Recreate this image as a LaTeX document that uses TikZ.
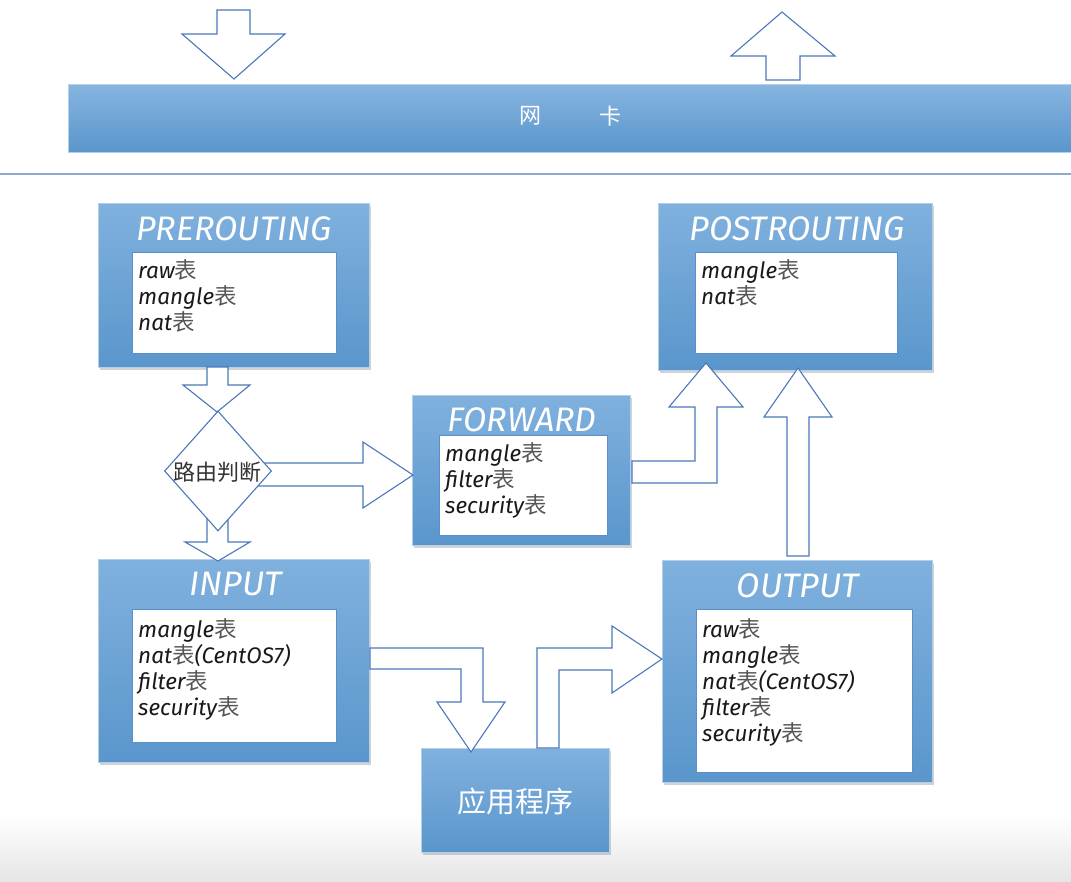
\documentclass[tikz,border=0pt]{standalone}
\usepackage{fontspec}
\setmainfont{Fira Sans}
\newfontfamily\cjk{Noto Sans CJK SC}
\usetikzlibrary{shadows,shapes.geometric}
\definecolor{bluetop}{HTML}{80B1DE}
\definecolor{bluebot}{HTML}{5A96CC}
\definecolor{arrowline}{HTML}{4A78BA}
\definecolor{innerline}{HTML}{5B8FCB}
\definecolor{sepline}{HTML}{8FA8CC}
\definecolor{biaogray}{HTML}{555555}
\newcommand{\bia}{{\upshape\cjk\color{biaogray}表}}
\begin{document}
\begin{tikzpicture}[x=1pt,y=-1pt,
  chainbox/.style={draw=bluetop!60!white, line width=0.5pt, top color=bluetop, bottom color=bluebot,
     drop shadow={opacity=0.35,shadow xshift=2pt,shadow yshift=-3pt}, inner sep=0pt},
  innerbox/.style={draw=innerline, line width=0.8pt, fill=white, inner sep=0pt},
  titletext/.style={text=white, font=\fontsize{34}{36}\selectfont\itshape, inner sep=0pt},
  bodytext/.style={text=black!90, font=\fontsize{22.5}{26}\selectfont\itshape, align=left, inner sep=0pt, anchor=north west},
  blockarrow/.style={draw=arrowline, fill=white, line width=1.1pt, line join=miter},
  cjktext/.style={font=\fontsize{#1}{#1}\selectfont\cjk, inner sep=0pt}
]
% background
\fill[white] (0,0) rectangle (1071,881);
\shade[top color=white, bottom color=black!10] (0,815) rectangle (1071,881);
\useasboundingbox (0,0) rectangle (1071,881);

% network card band
\node[draw=bluetop!60!white, line width=0.5pt, top color=bluetop!95!white, bottom color=bluebot, inner sep=0pt,
      minimum width=1003pt, minimum height=68pt] (nic) at (569.5,118) {};
\node[cjktext=22, text=white] (nicw) at (530,116) {网};
\node[cjktext=22, text=white] (nick) at (610,116) {卡};

% separator line
\coordinate (sepL) at (0,174);
\coordinate (sepR) at (1071,174);
\draw[sepline, line width=1.6pt] (sepL) -- (sepR);

% top block arrows
\draw[blockarrow] (217,10) -- (250,10) -- (250,34) -- (285,34) -- (234,79) -- (182,34) -- (217,34) -- cycle;
\draw[blockarrow] (766,80) -- (766,56) -- (731,56) -- (782,12) -- (835,56) -- (800,56) -- (800,80) -- cycle;

% chain boxes
\node[chainbox, minimum width=271pt, minimum height=164pt] (pre) at (233.5,285) {};
\node[chainbox, minimum width=274pt, minimum height=167pt] (post) at (795,286.5) {};
\node[chainbox, minimum width=218pt, minimum height=150pt] (fwd) at (521,470) {};
\node[chainbox, minimum width=271pt, minimum height=203pt] (in) at (233.5,660.5) {};
\node[chainbox, minimum width=270pt, minimum height=222pt] (out) at (797,671) {};
\node[chainbox, minimum width=188pt, minimum height=104pt] (app) at (515,800) {};

% titles
\node[titletext] (preT) at (234,229) {PREROUTING};
\node[titletext] (postT) at (797,229) {POSTROUTING};
\node[titletext] (fwdT) at (522,420) {FORWARD};
\node[titletext] (inT) at (236,584) {INPUT};
\node[titletext] (outT) at (798,586) {OUTPUT};
\node[cjktext=29, text=white] (appT) at (515,801) {应用程序};

% inner table boxes
\node[innerbox, minimum width=204pt, minimum height=101pt] (preI) at (234,302.5) {};
\node[innerbox, minimum width=202pt, minimum height=101pt] (postI) at (796,302.5) {};
\node[innerbox, minimum width=168pt, minimum height=100pt] (fwdI) at (523,485) {};
\node[innerbox, minimum width=204pt, minimum height=133pt] (inI) at (234,675.5) {};
\node[innerbox, minimum width=216pt, minimum height=163pt] (outI) at (804,690.5) {};

\node[bodytext] (preL) at (138,259) {raw\bia\\mangle\bia\\nat\bia};
\node[bodytext] (postL) at (701,259) {mangle\bia\\nat\bia};
\node[bodytext] (fwdL) at (445,442) {mangle\bia\\filter\bia\\security\bia};
\node[bodytext] (inL) at (138,618) {mangle\bia\\nat\bia(CentOS7)\\filter\bia\\security\bia};
\node[bodytext] (outL) at (702,618) {raw\bia\\mangle\bia\\nat\bia(CentOS7)\\filter\bia\\security\bia};

% arrows around the routing decision
\draw[blockarrow] (207,367) -- (228,367) -- (228,385) -- (250,385) -- (217,412) -- (183,385) -- (207,385) -- cycle;
\draw[blockarrow] (207,515) -- (228,515) -- (228,542) -- (250,542) -- (218,561) -- (185,542) -- (207,542) -- cycle;
\draw[blockarrow] (255,463) -- (363,463) -- (363,442) -- (413,475) -- (363,508) -- (363,486) -- (255,486) -- cycle;
\node[diamond, draw=arrowline, fill=white, line width=1.1pt, inner sep=0pt, minimum width=107pt, minimum height=120pt] (route) at (218,471) {};
\node[cjktext=22, text=black!80] (routeT) at (217,472) {路由判断};

% forward -> postrouting
\draw[blockarrow] (632,461) -- (695,461) -- (695,407) -- (669,407) -- (706,363) -- (743,407) -- (717,407) -- (717,483) -- (632,483) -- cycle;
% output -> postrouting
\draw[blockarrow] (787,556) -- (787,417) -- (764,417) -- (798,368) -- (832,417) -- (809,417) -- (809,556) -- cycle;
% input -> app
\draw[blockarrow] (370,648) -- (483,648) -- (483,702) -- (505,702) -- (471,752) -- (437,702) -- (461,702) -- (461,669) -- (370,669) -- cycle;
% app -> output
\draw[blockarrow] (537,748) -- (537,648) -- (612,648) -- (612,626) -- (662,659) -- (612,693) -- (612,670) -- (559,670) -- (559,748) -- cycle;
\end{tikzpicture}
\end{document}
